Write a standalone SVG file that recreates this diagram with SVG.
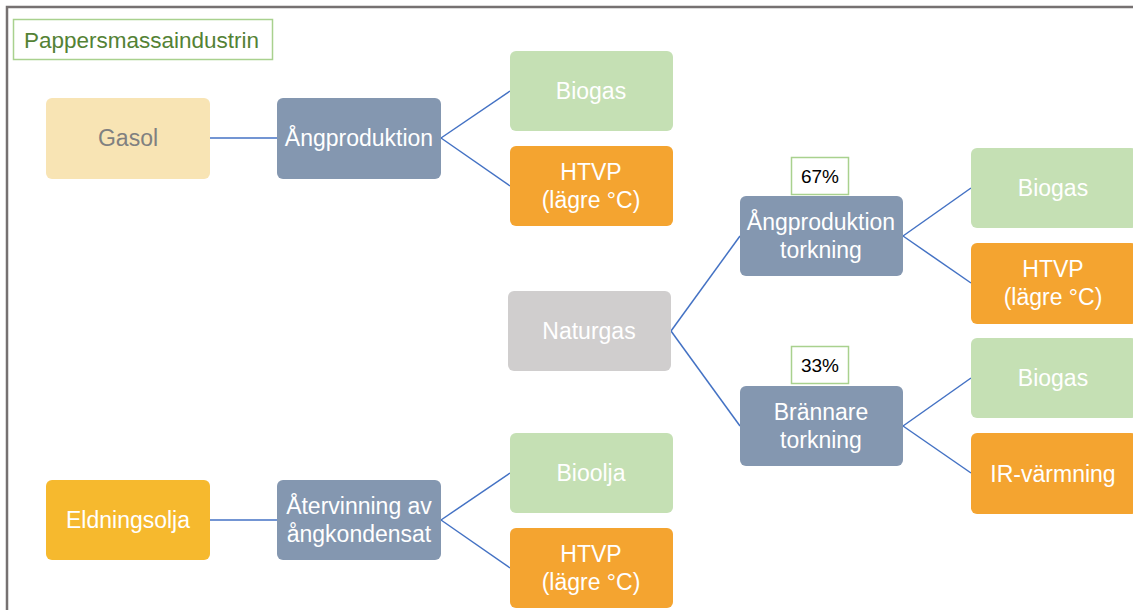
<svg xmlns="http://www.w3.org/2000/svg" width="1133" height="610" viewBox="0 0 1133 610">
  <style>
    .box { stroke: none; }
    .lbl { font-family: "Liberation Sans", Arial, sans-serif; font-size: 23px; fill: #ffffff; text-anchor: middle; }
    .dark { fill: #808080; }
    .pct { font-family: "Liberation Sans", Arial, sans-serif; font-size: 19px; fill: #000000; text-anchor: middle; }
    .tag { fill: #ffffff; stroke: #a9d18e; stroke-width: 1.5; }
    .conn line { stroke: #4472c4; stroke-width: 1.5; }
    .gas { fill: #f8e4b4; }
    .steel { fill: #8497b0; }
    .green { fill: #c5e0b4; }
    .orange { fill: #f4a430; }
    .grey { fill: #d0cece; }
    .gold { fill: #f6b92e; }
  </style>
  <rect width="1133" height="610" fill="#ffffff"/>
  <!-- outer frame -->
  <path d="M7,610 V7 H1133" fill="none" stroke="#767171" stroke-width="2.5"/>

  <!-- title -->
  <g id="title">
    <rect x="13.5" y="19.5" width="259" height="40" fill="#ffffff" stroke="#a9d18e" stroke-width="1.5"/>
    <text x="24" y="48" font-family="Liberation Sans, Arial, sans-serif" font-size="22.5" fill="#548235">Pappersmassaindustrin</text>
  </g>

  <!-- connectors -->
  <g id="connectors" class="conn">
    <line x1="210" y1="138" x2="277" y2="138"/>
    <line x1="441" y1="138" x2="510" y2="91"/>
    <line x1="441" y1="138" x2="510" y2="186"/>
    <line x1="671" y1="331" x2="740" y2="236"/>
    <line x1="671" y1="331" x2="740" y2="426"/>
    <line x1="903" y1="236" x2="971" y2="188"/>
    <line x1="903" y1="236" x2="971" y2="283"/>
    <line x1="903" y1="426" x2="971" y2="378"/>
    <line x1="903" y1="426" x2="971" y2="473"/>
    <line x1="210" y1="520" x2="277" y2="520"/>
    <line x1="441" y1="520" x2="510" y2="473"/>
    <line x1="441" y1="520" x2="510" y2="568"/>
  </g>

  <g id="gasol">
    <rect class="gas" x="46" y="98" width="164" height="81" rx="6"/>
    <text class="lbl dark" x="128" y="146">Gasol</text>
  </g>
  <g id="angproduktion">
    <rect class="steel" x="277" y="98" width="164" height="81" rx="6"/>
    <text class="lbl" x="359" y="146">Ångproduktion</text>
  </g>
  <g id="biogas-1">
    <rect class="green" x="510" y="51" width="163" height="80" rx="6"/>
    <text class="lbl" x="591" y="99">Biogas</text>
  </g>
  <g id="htvp-1">
    <rect class="orange" x="510" y="146" width="163" height="80" rx="6"/>
    <text class="lbl" x="591" y="180">HTVP</text>
    <text class="lbl" x="591" y="208">(lägre °C)</text>
  </g>

  <g id="naturgas">
    <rect class="grey" x="508" y="291" width="163" height="80" rx="6"/>
    <text class="lbl" x="589" y="339">Naturgas</text>
  </g>

  <g id="pct-67">
    <rect class="tag" x="791.5" y="157.5" width="57" height="37"/>
    <text class="pct" x="820" y="183">67%</text>
  </g>
  <g id="angproduktion-torkning">
    <rect class="steel" x="740" y="196" width="163" height="80" rx="6"/>
    <text class="lbl" x="821" y="230">Ångproduktion</text>
    <text class="lbl" x="821" y="258">torkning</text>
  </g>
  <g id="biogas-2">
    <rect class="green" x="971" y="148" width="166" height="80" rx="6"/>
    <text class="lbl" x="1053" y="196">Biogas</text>
  </g>
  <g id="htvp-2">
    <rect class="orange" x="971" y="243" width="166" height="81" rx="6"/>
    <text class="lbl" x="1053" y="277">HTVP</text>
    <text class="lbl" x="1053" y="305">(lägre °C)</text>
  </g>

  <g id="pct-33">
    <rect class="tag" x="791.5" y="346.5" width="57" height="37"/>
    <text class="pct" x="820" y="372">33%</text>
  </g>
  <g id="brannare-torkning">
    <rect class="steel" x="740" y="386" width="163" height="80" rx="6"/>
    <text class="lbl" x="821" y="420">Brännare</text>
    <text class="lbl" x="821" y="448">torkning</text>
  </g>
  <g id="biogas-3">
    <rect class="green" x="971" y="338" width="166" height="80" rx="6"/>
    <text class="lbl" x="1053" y="386">Biogas</text>
  </g>
  <g id="ir-varmning">
    <rect class="orange" x="971" y="433" width="166" height="81" rx="6"/>
    <text class="lbl" x="1053" y="482">IR-värmning</text>
  </g>

  <g id="eldningsolja">
    <rect class="gold" x="46" y="480" width="164" height="80" rx="6"/>
    <text class="lbl" x="128" y="528">Eldningsolja</text>
  </g>
  <g id="atervinning">
    <rect class="steel" x="277" y="480" width="164" height="80" rx="6"/>
    <text class="lbl" x="359" y="514">Återvinning av</text>
    <text class="lbl" x="359" y="542">ångkondensat</text>
  </g>
  <g id="bioolja">
    <rect class="green" x="510" y="433" width="163" height="80" rx="6"/>
    <text class="lbl" x="591" y="481">Bioolja</text>
  </g>
  <g id="htvp-3">
    <rect class="orange" x="510" y="528" width="163" height="80" rx="6"/>
    <text class="lbl" x="591" y="562">HTVP</text>
    <text class="lbl" x="591" y="590">(lägre °C)</text>
  </g>
</svg>
